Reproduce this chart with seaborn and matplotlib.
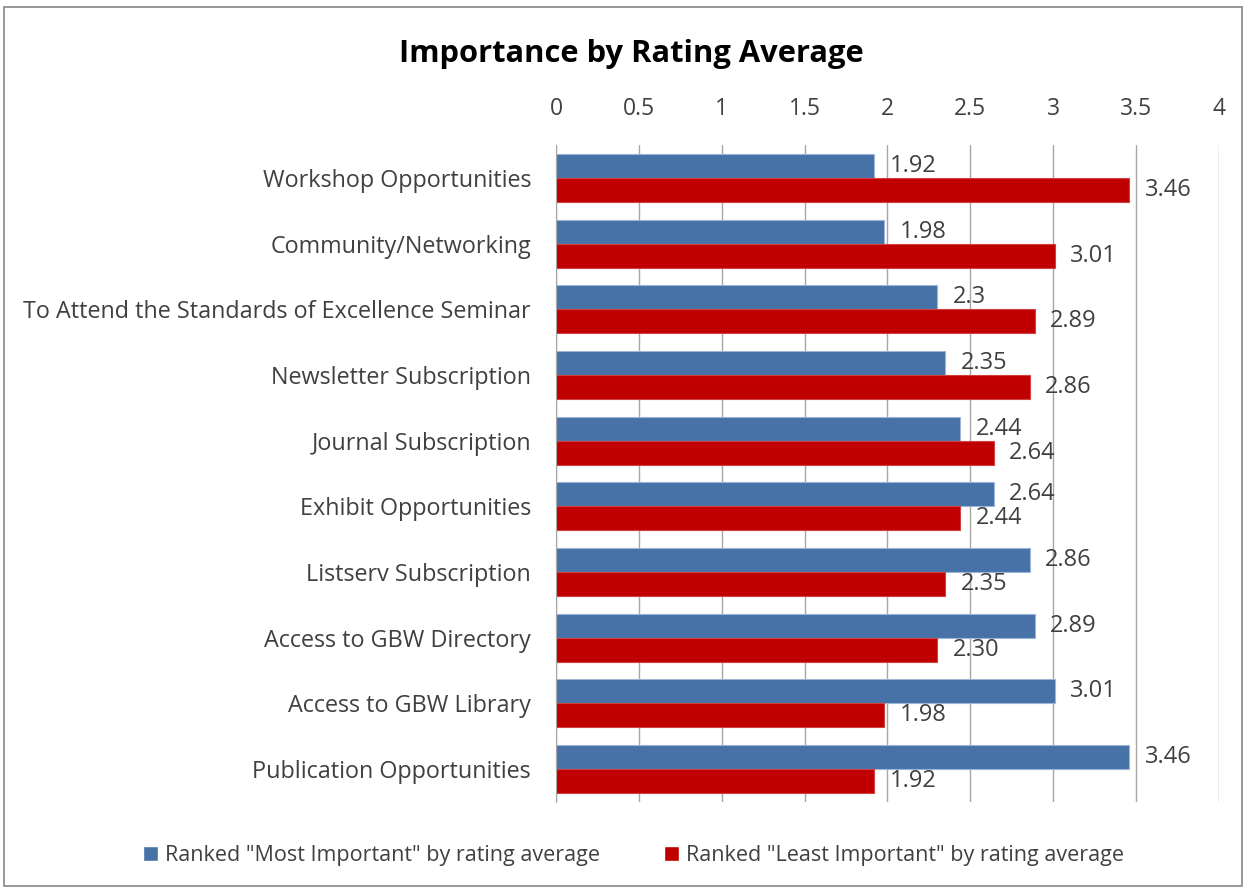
import pandas as pd
import numpy as np
import seaborn as sns
import matplotlib.pyplot as plt
from matplotlib.patches import Rectangle

# data
categories = ["Workshop Opportunities", "Community/Networking",
              "To Attend the Standards of Excellence Seminar", "Newsletter Subscription",
              "Journal Subscription", "Exhibit Opportunities", "Listserv Subscription",
              "Access to GBW Directory", "Access to GBW Library", "Publication Opportunities"]
most_important = [1.92, 1.98, 2.3, 2.35, 2.44, 2.64, 2.86, 2.89, 3.01, 3.46]
least_important = [3.46, 3.01, 2.89, 2.86, 2.64, 2.44, 2.35, 2.30, 1.98, 1.92]
most_labels = ["1.92", "1.98", "2.3", "2.35", "2.44", "2.64", "2.86", "2.89", "3.01", "3.46"]
least_labels = ["3.46", "3.01", "2.89", "2.86", "2.64", "2.44", "2.35", "2.30", "1.98", "1.92"]
series_names = ['Ranked "Most Important" by rating average',
                'Ranked "Least Important" by rating average']
x_ticks = [0, 0.5, 1, 1.5, 2, 2.5, 3, 3.5, 4]
x_ticklabels = ["0", "0.5", "1", "1.5", "2", "2.5", "3", "3.5", "4"]

df = pd.DataFrame({
    "category": categories * 2,
    "value": most_important + least_important,
    "series": [series_names[0]] * len(categories) + [series_names[1]] * len(categories),
})

sns.set_style("white")
plt.rcParams['font.family'] = ['Open Sans', 'DejaVu Sans']
text_col = "#404040"

fig = plt.figure(figsize=(12.47, 8.9), dpi=100)
ax = fig.add_axes([0.4459, 0.099, 0.5316, 0.738])

sns.barplot(data=df, y="category", x="value", hue="series", hue_order=series_names,
            order=categories, orient="h", width=0.73,
            palette=["#4672A8", "#C00000"], saturation=1, ax=ax, legend=True)

for cont in ax.containers:
    for p in cont:
        p.set_edgecolor("#9DB6D8" if cont is ax.containers[0] else "#D04040")
        p.set_linewidth(0.8)

ax.bar_label(ax.containers[0], labels=most_labels, padding=11, fontsize=17, color=text_col)
ax.bar_label(ax.containers[1], labels=least_labels, padding=11, fontsize=17, color=text_col)

ax.set_xlim(0, 4)
ax.set_xticks(x_ticks)
ax.set_xticklabels(x_ticklabels)
ax.xaxis.tick_top()
ax.tick_params(axis="x", length=0, pad=17, labelsize=16.5, labelcolor=text_col)
ax.tick_params(axis="y", length=0, pad=18, labelsize=16.8, labelcolor=text_col)
ax.set_xlabel("")
ax.set_ylabel("")
ax.xaxis.grid(True, color="#A6A6A6", linewidth=1)
ax.set_axisbelow(True)
for s in ["top", "bottom", "right"]:
    ax.spines[s].set_visible(False)
ax.spines["left"].set_color("#A6A6A6")

handles, labels = ax.get_legend_handles_labels()
ax.get_legend().remove()
fig.legend(handles, labels, loc="center", bbox_to_anchor=(0.508, 0.039), ncol=2,
           frameon=False, fontsize=15.5, handlelength=0.7, handleheight=0.7,
           handletextpad=0.3, columnspacing=3.0, labelcolor=text_col)

fig.text(0.506, 0.939, "Importance by Rating Average", ha="center", va="center",
         fontsize=22.2, fontweight="bold", color="black")

fig.patches.append(Rectangle((0.003, 0.005), 0.993, 0.987, transform=fig.transFigure,
                             fill=False, edgecolor="#868686", linewidth=1.2))

fig.savefig("out.png", dpi=100)
